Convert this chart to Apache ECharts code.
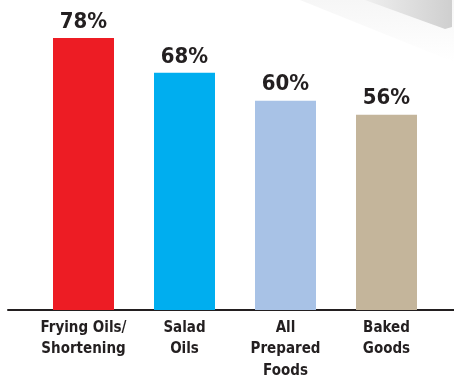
<!DOCTYPE html>
<html><head><meta charset="utf-8">
<style>html,body{margin:0;padding:0;background:#fff;}#c{width:454px;height:376px;}</style>
<script src="https://cdn.jsdelivr.net/npm/echarts@6/dist/echarts.min.js"></script>
</head><body><div id="c"></div>
<script>
const categories = ["Frying Oils/\nShortening", "Salad\nOils", "All\nPrepared\nFoods", "Baked\nGoods"];
const values = [78, 68, 60, 56];
const barColors = ["#ed1c24", "#00aeef", "#a8c2e6", "#c4b59b"];

const chart = echarts.init(document.getElementById('c'), null, {renderer: 'canvas'});
const FONT = '"DejaVu Sans Condensed", "DejaVu Sans", sans-serif';
chart.setOption({
  animation: false,
  backgroundColor: '#fff',
  graphic: [
    {type: 'polygon', shape: {points: [[300,0],[454,0],[454,62]]},
     style: {fill: {type: 'linear', x: 0, y: 0, x2: 0, y2: 1, colorStops: [{offset: 0, color: '#f6f6f6'}, {offset: 1, color: '#ffffff'}]}}, silent: true, z: -10},
    {type: 'polygon', shape: {points: [[365,0],[445,29],[452,27],[452,0]]},
     style: {fill: {type: 'linear', x: 0, y: 0, x2: 1, y2: 0, colorStops: [{offset: 0, color: '#efefef'}, {offset: 1, color: '#cfcfcf'}]}}, silent: true, z: -9}
  ],
  grid: [
    {left: 33, right: 17, top: 31, bottom: 66, outerBoundsMode: 'none'},
    {left: 8, right: 0, top: 31, bottom: 66, outerBoundsMode: 'none'}
  ],
  xAxis: [
    {type: 'category', gridIndex: 0, data: categories,
     axisLine: {show: false}, axisTick: {show: false},
     axisLabel: {interval: 0, margin: 7, color: '#231f20', fontFamily: FONT, fontWeight: 'bold', fontSize: 15, lineHeight: 21.5}},
    {type: 'category', gridIndex: 1, data: [''],
     axisLine: {show: true, lineStyle: {color: '#231f20', width: 2}}, axisTick: {show: false}, axisLabel: {show: false}}
  ],
  yAxis: [
    {type: 'value', gridIndex: 0, min: 0, max: 80, show: false},
    {type: 'value', gridIndex: 1, min: 0, max: 80, show: false}
  ],
  series: [{
    type: 'bar', xAxisIndex: 0, yAxisIndex: 0, barWidth: 61,
    data: values.map((v, i) => ({value: v, itemStyle: {color: barColors[i]}})),
    label: {show: true, position: 'top', distance: 5, formatter: '{c}%', color: '#231f20', fontFamily: FONT, fontWeight: 'bold', fontSize: 22}
  }]
});
</script></body></html>
